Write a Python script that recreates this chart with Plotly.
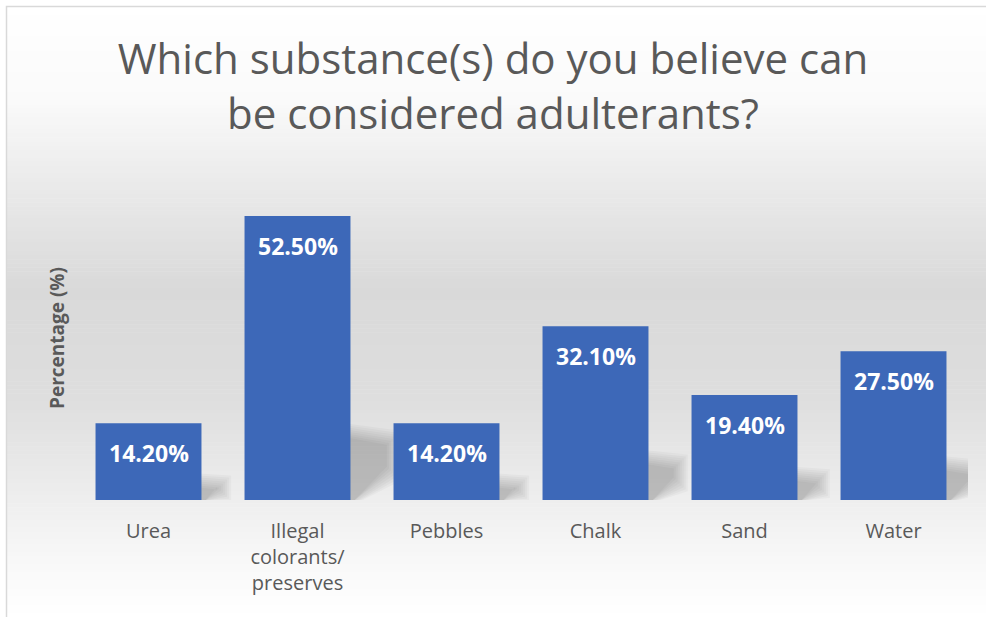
import plotly.graph_objects as go

categories = ["Urea", "Illegal<br>colorants/<br>preserves", "Pebbles", "Chalk", "Sand", "Water"]
values = [14.2, 52.5, 14.2, 32.1, 19.4, 27.5]
labels = ["14.20%", "52.50%", "14.20%", "32.10%", "19.40%", "27.50%"]
title_text = "Which substance(s) do you believe can<br>be considered adulterants?"
y_title = "Percentage (%)"

W, H = 986, 617
L, R, T, B = 74, 18, 150, 117
PW, PH = W - L - R, H - T - B
YMAX = PH / 5.41

def xp(px):
    return (px - L) / PW

def yp(py):
    return (H - B - py) / PH

fig = go.Figure()
idx = list(range(len(categories)))
bar_w = 0.711
fig.add_trace(go.Bar(x=idx, y=values, width=bar_w, marker=dict(color="#3D68B8", line=dict(width=0)),
                     hoverinfo="skip"))

shapes = []
# background gradient
stops = [(6, 255), (100, 250), (180, 235), (290, 217), (400, 222), (500, 238), (560, 248), (617, 255)]
def gray(py):
    for (a, ca), (b, cb) in zip(stops, stops[1:]):
        if a <= py <= b:
            return ca + (cb - ca) * (py - a) / (b - a)
    return 255
n = 150
y0 = 7
step = (H - y0) / n
for k in range(n):
    top = y0 + k * step
    c = int(round(gray(top + step / 2)))
    shapes.append(dict(type="rect", xref="paper", yref="paper", layer="below",
                       x0=xp(7), x1=xp(W + 2), y0=yp(top + step + 0.5), y1=yp(top),
                       fillcolor=f"rgb({c},{c},{c})", line=dict(width=0)))
# border
shapes.append(dict(type="rect", xref="paper", yref="paper", layer="below",
                   x0=xp(6.5), x1=xp(W + 5), y0=yp(H + 5), y1=yp(6.5),
                   fillcolor="rgba(0,0,0,0)", line=dict(color="#d9d9d9", width=1.5)))

# soft shadows derived from bar values
px_per_unit_x = PW / 6
px_per_unit_y = PH / YMAX
for i, v in zip(idx, values):
    xr = i + bar_w / 2
    hpx = v * px_per_unit_y
    sh = 0.24 * v
    dx = (14 + 0.1 * hpx) / px_per_unit_x
    for grow in range(-6, 10, 2):
        gx = grow / px_per_unit_x
        gy = grow / px_per_unit_y
        top = max(sh + gy, 0.5)
        path = (f"M {xr - 0.01},0 L {xr - 0.01},{top} "
                f"L {xr + dx + gx},{max(sh * 0.9 + gy, 0.3)} L {xr + dx + gx},{max(sh * 0.4 - gy, 0)} "
                f"L {xr + 0.03 + max(gx, 0)},0 Z")
        shapes.append(dict(type="path", xref="x", yref="y", layer="below", path=path,
                           fillcolor="rgba(0,0,0,0.028)", line=dict(width=0)))

annotations = []
for i, v, t in zip(idx, values, labels):
    annotations.append(dict(x=i, y=v, xref="x", yref="y", text=t, showarrow=False,
                            yshift=-30, font=dict(family="Open Sans", size=23, color="white",
                                                   weight="bold")))
annotations.append(dict(x=xp(57), y=yp(338), xref="paper", yref="paper", text=y_title,
                        textangle=-90, showarrow=False, xanchor="center", yanchor="middle",
                        font=dict(family="Open Sans", size=19, color="#595959", weight="bold")))

fig.update_layout(
    width=W, height=H,
    margin=dict(l=L, r=R, t=T, b=B, pad=0),
    paper_bgcolor="white", plot_bgcolor="rgba(0,0,0,0)",
    title=dict(text=title_text, x=0.5, xref="container", xanchor="center",
               y=1 - 74 / H, yref="container", yanchor="middle",
               font=dict(family="Open Sans", size=42, color="#595959")),
    shapes=shapes, annotations=annotations, showlegend=False,
    bargap=0.29,
    xaxis=dict(range=[-0.5, 5.5], tickvals=idx, ticktext=categories, showgrid=False,
               zeroline=False, showline=False, ticks="", ticklabelstandoff=17,
               tickfont=dict(family="Open Sans", size=20, color="#595959"), fixedrange=True),
    yaxis=dict(range=[0, YMAX], showgrid=False, zeroline=False, showline=False,
               showticklabels=False, ticks="", fixedrange=True),
)
fig.write_html("out.html")
